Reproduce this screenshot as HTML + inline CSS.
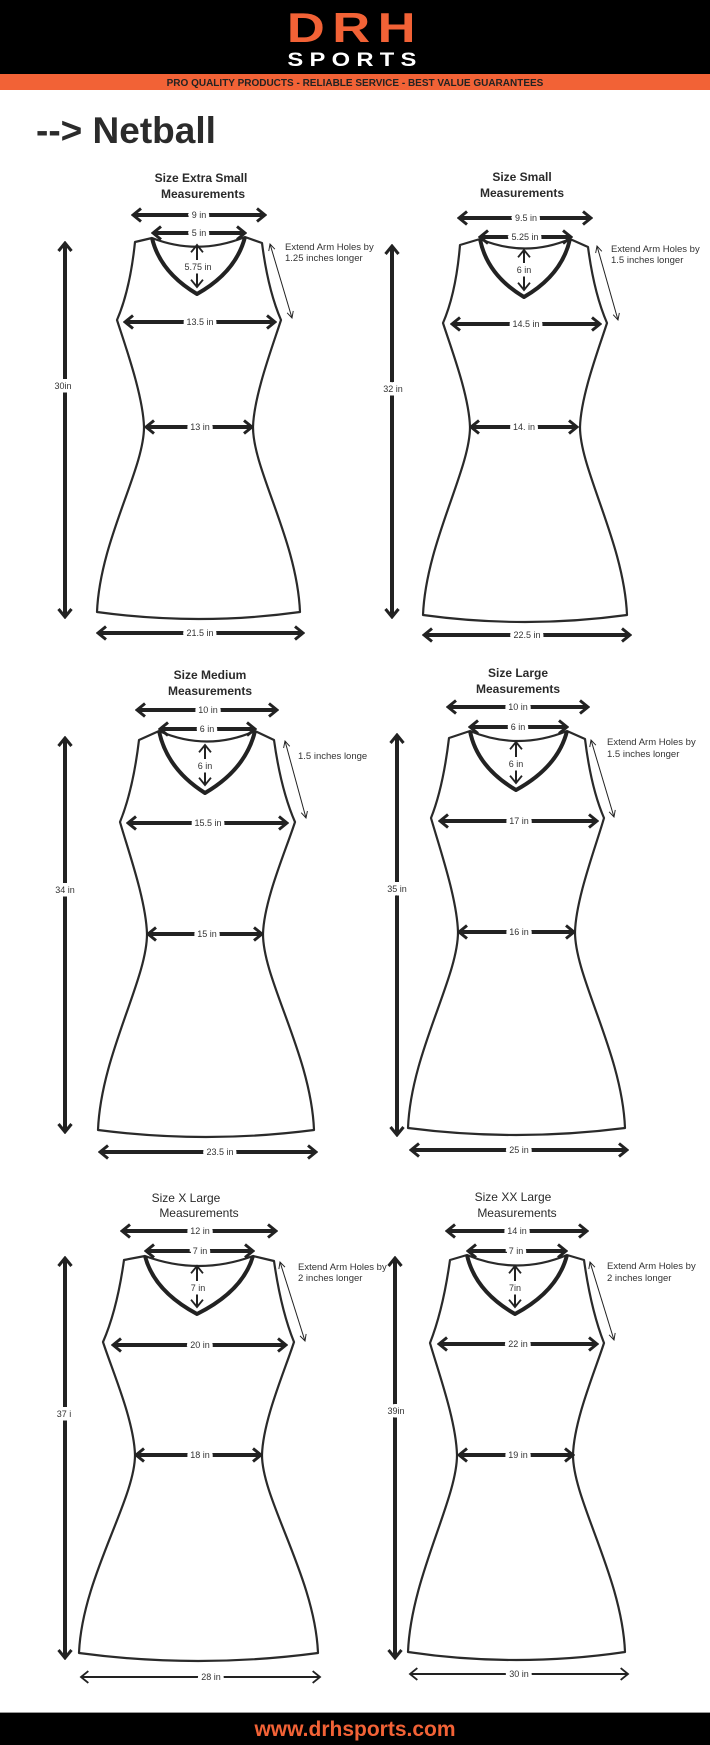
<!DOCTYPE html>
<html><head><meta charset="utf-8">
<style>
html,body{margin:0;padding:0;background:#fff;}
body{width:710px;height:1745px;overflow:hidden;position:relative;font-family:"Liberation Sans",sans-serif;}
svg{position:absolute;left:0;top:0;}
</style></head>
<body>
<svg width="710" height="1745" viewBox="0 0 710 1745" xmlns="http://www.w3.org/2000/svg" font-family="Liberation Sans, sans-serif">
<defs>
<marker id="ak" viewBox="0 0 12 16" refX="10" refY="8" markerWidth="12" markerHeight="16" markerUnits="userSpaceOnUse" orient="auto-start-reverse">
<path d="M2,1.5 L10,8 L2,14.5" fill="none" stroke="#222" stroke-width="3"/></marker>
<marker id="at" viewBox="0 0 12 16" refX="10" refY="8" markerWidth="11" markerHeight="15" markerUnits="userSpaceOnUse" orient="auto-start-reverse">
<path d="M2,1.5 L10,8 L2,14.5" fill="none" stroke="#222" stroke-width="2"/></marker>
<marker id="as" viewBox="0 0 10 10" refX="9" refY="5" markerWidth="8" markerHeight="8" markerUnits="userSpaceOnUse" orient="auto-start-reverse">
<path d="M1,1 L9,5 L1,9" fill="none" stroke="#222" stroke-width="1.2"/></marker>
</defs>

<!-- header -->
<rect x="0" y="0" width="710" height="74" fill="#000"/>
<rect x="0" y="74" width="710" height="16" fill="#f26236"/>
<text x="355" y="42" text-anchor="middle" font-size="42" font-weight="bold" fill="#f26236" letter-spacing="6" transform="translate(355 0) scale(1.25 1) translate(-355 0)">DRH</text>
<text x="355" y="66" text-anchor="middle" font-size="19" font-weight="bold" fill="#fff" letter-spacing="5" transform="translate(355 0) scale(1.25 1) translate(-355 0)">SPORTS</text>
<text x="355" y="86" text-anchor="middle" font-size="10" font-weight="bold" fill="#222">PRO QUALITY PRODUCTS - RELIABLE SERVICE - BEST VALUE GUARANTEES</text>
<text x="36" y="143" font-size="37" font-weight="bold" fill="#2b2b2b">--&gt; Netball</text>

<g fill="none" stroke="#2a2a2a" stroke-width="2.2" stroke-linejoin="round">
<path d="M135,242 L152,238 Q198,256 245,237 L262,243 Q268,290 281,320 C273,345 254,395 253,427 C253,470 297,540 300,612 Q199,626 97,612 C100,540 144,470 144,427 C143,395 125,345 117,320 Q130,290 135,242 Z"/>
<path d="M460,245 L480,239 Q525,258 570,239 L588,247 Q594,293 607,323 C599,348 581,395 580,427 C580,470 624,543 627,615 Q525,629 423,615 C426,543 470,470 470,427 C469,395 451,348 443,323 Q456,293 460,245 Z"/>
<path d="M139,740 L159,731 Q207,752 255,731 L274,740 Q281,790 295,822 C286,850 264,900 263,934 C263,980 311,1055 314,1130 Q206,1144 98,1130 C101,1055 147,980 147,934 C146,900 128,850 120,822 Q133,790 139,740 Z"/>
<path d="M449,738 L470,731 Q518,751 567,731 L585,739 Q591,788 604,818 C596,846 576,898 575,932 C575,978 622,1053 625,1128 Q516,1142 408,1128 C411,1053 458,978 458,932 C457,898 439,846 431,818 Q443,788 449,738 Z"/>
<path d="M124,1260 L145,1256 Q199,1276 253,1256 L274,1261 Q281,1310 294,1342 C285,1370 263,1420 262,1455 C262,1500 315,1578 318,1653 Q198,1669 79,1653 C82,1578 135,1500 135,1455 C134,1420 112,1370 103,1342 Q117,1310 124,1260 Z"/>
<path d="M450,1260 L467,1255 Q517,1276 567,1255 L584,1260 Q591,1310 604,1343 C595,1371 574,1420 573,1455 C573,1500 622,1577 625,1652 Q516,1668 408,1652 C411,1577 457,1500 457,1455 C456,1420 438,1371 430,1343 Q443,1310 450,1260 Z"/>
</g>
<g fill="none" stroke="#222" stroke-width="4" stroke-linejoin="round">
<path d="M152,238 Q160,272 197,294 Q236,272 245,237"/>
<path d="M480,239 Q487,275 524,297 Q562,275 570,239"/>
<path d="M159,731 Q167,769 205,793 Q246,769 255,731"/>
<path d="M470,731 Q477,767 516,790 Q558,767 567,731"/>
<path d="M145,1256 Q154,1291 197,1314 Q243,1291 253,1256"/>
<path d="M467,1255 Q475,1291 515,1314 Q558,1291 567,1255"/>
</g>

<!-- thick arrows -->
<g stroke="#222" stroke-width="4" marker-start="url(#ak)" marker-end="url(#ak)">
<line x1="133" y1="215" x2="265" y2="215"/><line x1="153" y1="233" x2="245" y2="233"/>
<line x1="125" y1="322" x2="275" y2="322"/><line x1="146" y1="427" x2="252" y2="427"/>
<line x1="98" y1="633" x2="303" y2="633"/><line x1="65" y1="243" x2="65" y2="617"/>
<line x1="459" y1="218" x2="591" y2="218"/><line x1="480" y1="237" x2="571" y2="237"/>
<line x1="452" y1="324" x2="600" y2="324"/><line x1="471" y1="427" x2="577" y2="427"/>
<line x1="424" y1="635" x2="630" y2="635"/><line x1="392" y1="246" x2="392" y2="617"/>
<line x1="137" y1="710" x2="277" y2="710"/><line x1="160" y1="729" x2="255" y2="729"/>
<line x1="128" y1="823" x2="287" y2="823"/><line x1="148" y1="934" x2="262" y2="934"/>
<line x1="100" y1="1152" x2="316" y2="1152"/><line x1="65" y1="738" x2="65" y2="1132"/>
<line x1="448" y1="707" x2="588" y2="707"/><line x1="470" y1="727" x2="567" y2="727"/>
<line x1="440" y1="821" x2="597" y2="821"/><line x1="459" y1="932" x2="574" y2="932"/>
<line x1="411" y1="1150" x2="627" y2="1150"/><line x1="397" y1="735" x2="397" y2="1135"/>
<line x1="122" y1="1231" x2="276" y2="1231"/><line x1="146" y1="1251" x2="253" y2="1251"/>
<line x1="113" y1="1345" x2="286" y2="1345"/><line x1="136" y1="1455" x2="261" y2="1455"/>
<line x1="65" y1="1258" x2="65" y2="1658"/>
<line x1="447" y1="1231" x2="587" y2="1231"/><line x1="468" y1="1251" x2="566" y2="1251"/>
<line x1="439" y1="1344" x2="597" y2="1344"/><line x1="459" y1="1455" x2="573" y2="1455"/>
<line x1="395" y1="1258" x2="395" y2="1658"/>
</g>
<g stroke="#222" stroke-width="2" marker-start="url(#at)" marker-end="url(#at)">
<line x1="197" y1="245" x2="197" y2="287"/><line x1="524" y1="250" x2="524" y2="290"/>
<line x1="205" y1="745" x2="205" y2="785"/><line x1="516" y1="742" x2="516" y2="783"/>
<line x1="197" y1="1266" x2="197" y2="1307"/><line x1="515" y1="1266" x2="515" y2="1307"/>
<line x1="81" y1="1677" x2="320" y2="1677"/><line x1="410" y1="1674" x2="628" y2="1674"/>
</g>
<g stroke="#222" stroke-width="1" marker-start="url(#as)" marker-end="url(#as)">
<line x1="270" y1="244" x2="292" y2="318"/><line x1="597" y1="246" x2="618" y2="320"/>
<line x1="285" y1="741" x2="306" y2="818"/><line x1="591" y1="740" x2="614" y2="817"/>
<line x1="280" y1="1262" x2="305" y2="1341"/><line x1="590" y1="1262" x2="614" y2="1340"/>
</g>

<!-- measurement labels -->
<g font-size="9" fill="#333" text-anchor="middle" stroke="#fff" stroke-width="7" paint-order="stroke">
<text x="199" y="218">9 in</text><text x="199" y="236">5 in</text><text x="198" y="270">5.75 in</text>
<text x="200" y="325">13.5 in</text><text x="200" y="430">13 in</text><text x="200" y="636">21.5 in</text>
<text x="63" y="389">30in</text>
<text x="526" y="221">9.5 in</text><text x="525" y="240">5.25 in</text><text x="524" y="273">6 in</text>
<text x="526" y="327">14.5 in</text><text x="524" y="430">14.  in</text><text x="527" y="638">22.5 in</text>
<text x="393" y="392">32 in</text>
<text x="208" y="713">10 in</text><text x="207" y="732">6 in</text><text x="205" y="769">6 in</text>
<text x="208" y="826">15.5 in</text><text x="207" y="937">15 in</text><text x="220" y="1155">23.5 in</text>
<text x="65" y="893">34 in</text>
<text x="518" y="710">10 in</text><text x="518" y="730">6 in</text><text x="516" y="767">6 in</text>
<text x="519" y="824">17 in</text><text x="519" y="935">16 in</text><text x="519" y="1153">25 in</text>
<text x="397" y="892">35 in</text>
<text x="200" y="1234">12 in</text><text x="200" y="1254">7 in</text><text x="198" y="1291">7 in</text>
<text x="200" y="1348">20 in</text><text x="200" y="1458">18 in</text><text x="211" y="1680">28 in</text>
<text x="64" y="1417">37 i</text>
<text x="517" y="1234">14 in</text><text x="516" y="1254">7 in</text><text x="515" y="1291">7in</text>
<text x="518" y="1347">22 in</text><text x="518" y="1458">19 in</text><text x="519" y="1677">30 in</text>
<text x="396" y="1414">39in</text>
</g>

<!-- arm hole notes -->
<g font-size="9.5" fill="#333">
<text x="285" y="250">Extend Arm Holes by</text><text x="285" y="261">1.25 inches longer</text>
<text x="611" y="252">Extend Arm Holes by</text><text x="611" y="263">1.5 inches longer</text>
<text x="298" y="759">1.5 inches longe</text>
<text x="607" y="745">Extend Arm Holes by</text><text x="607" y="757">1.5 inches longer</text>
<text x="298" y="1270">Extend Arm Holes by</text><text x="298" y="1281">2 inches longer</text>
<text x="607" y="1269">Extend Arm Holes by</text><text x="607" y="1281">2 inches longer</text>
</g>

<!-- titles -->
<g font-size="12" fill="#2a2a2a" text-anchor="middle">
<g font-weight="bold">
<text x="201" y="182">Size Extra Small</text><text x="203" y="198">Measurements</text>
<text x="522" y="181">Size Small</text><text x="522" y="197">Measurements</text>
<text x="210" y="679">Size Medium</text><text x="210" y="695">Measurements</text>
<text x="518" y="677">Size Large</text><text x="518" y="693">Measurements</text>
</g>
<text x="186" y="1202">Size X Large</text><text x="199" y="1217">Measurements</text>
<text x="513" y="1201">Size XX Large</text><text x="517" y="1217">Measurements</text>
</g>

<!-- footer -->
<rect x="0" y="1712" width="710" height="1" fill="#999"/>
<rect x="0" y="1713" width="710" height="32" fill="#000"/>
<text x="355" y="1736" text-anchor="middle" font-size="21" font-weight="bold" fill="#f26236">www.drhsports.com</text>
</svg>
</body></html>
